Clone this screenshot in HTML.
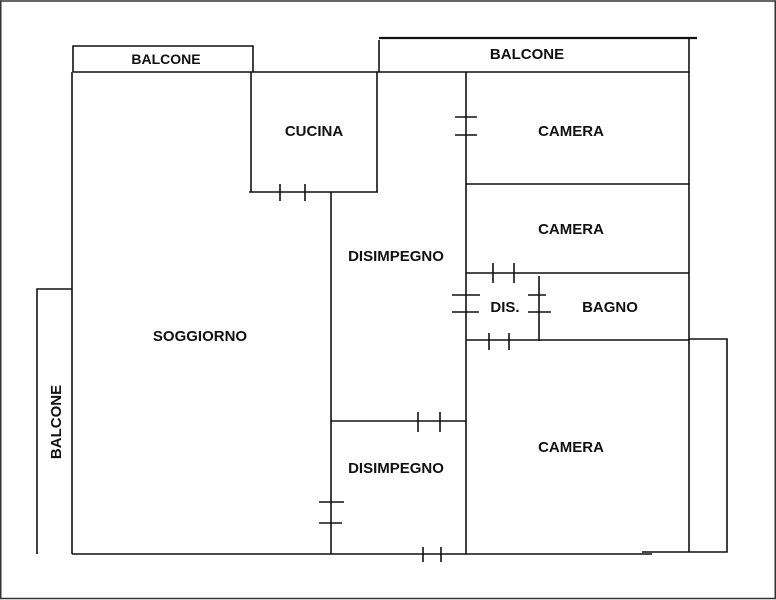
<!DOCTYPE html>
<html><head><meta charset="utf-8"><style>
html,body{margin:0;padding:0;background:#fff;}
svg{display:block;}
text{font-family:"Liberation Sans",Arial,sans-serif;font-weight:bold;fill:#111;}
</style></head><body>
<svg width="776" height="600" viewBox="0 0 776 600" xmlns="http://www.w3.org/2000/svg">
<rect x="0" y="0" width="776" height="600" fill="#fff"/>
<rect x="0.75" y="1" width="774.5" height="597.5" fill="none" stroke="#333" stroke-width="1.5"/>
<g stroke="#111" stroke-width="1.6" fill="none">
<polyline points="73,72 73,46 253,46 253,72"/>
<line x1="379" y1="38" x2="697" y2="38" stroke-width="2.2"/>
<line x1="379" y1="40" x2="379" y2="72"/>
<line x1="689" y1="38" x2="689" y2="72"/>
<line x1="73" y1="72" x2="689" y2="72"/>
<line x1="72" y1="72" x2="72" y2="554"/>
<line x1="689" y1="72" x2="689" y2="552"/>
<line x1="72" y1="554" x2="652" y2="554"/>
<line x1="642" y1="552" x2="689" y2="552"/>
<polyline points="72,289 37,289 37,554"/>
<line x1="251" y1="72" x2="251" y2="192"/>
<line x1="377" y1="72" x2="377" y2="192"/>
<line x1="249" y1="192" x2="378" y2="192"/>
<line x1="280" y1="184" x2="280" y2="201"/>
<line x1="305" y1="184" x2="305" y2="201"/>
<line x1="331" y1="192" x2="331" y2="554"/>
<line x1="466" y1="72" x2="466" y2="554"/>
<line x1="455" y1="117" x2="477" y2="117"/>
<line x1="455" y1="135" x2="477" y2="135"/>
<line x1="466" y1="184" x2="689" y2="184"/>
<line x1="466" y1="273" x2="689" y2="273"/>
<line x1="493" y1="263" x2="493" y2="283"/>
<line x1="514" y1="263" x2="514" y2="283"/>
<line x1="539" y1="276" x2="539" y2="341"/>
<line x1="528" y1="295" x2="546" y2="295"/>
<line x1="528" y1="312" x2="551" y2="312"/>
<line x1="452" y1="295" x2="480" y2="295"/>
<line x1="452" y1="312" x2="479" y2="312"/>
<line x1="466" y1="340" x2="689" y2="340"/>
<line x1="489" y1="333" x2="489" y2="350"/>
<line x1="509" y1="333" x2="509" y2="350"/>
<polyline points="689,339 727,339 727,552 689,552"/>
<line x1="331" y1="421" x2="466" y2="421"/>
<line x1="418" y1="412" x2="418" y2="432"/>
<line x1="440" y1="412" x2="440" y2="432"/>
<line x1="319" y1="502" x2="344" y2="502"/>
<line x1="319" y1="523" x2="342" y2="523"/>
<line x1="423" y1="547" x2="423" y2="562"/>
<line x1="441" y1="547" x2="441" y2="562"/>
</g>
<g font-size="15" text-anchor="middle">
<text x="166" y="64" font-size="14">BALCONE</text>
<text x="527" y="59">BALCONE</text>
<text x="314" y="136">CUCINA</text>
<text x="571" y="136">CAMERA</text>
<text x="571" y="234">CAMERA</text>
<text x="396" y="261">DISIMPEGNO</text>
<text x="505" y="312">DIS.</text>
<text x="610" y="312">BAGNO</text>
<text x="200" y="341">SOGGIORNO</text>
<text x="571" y="452">CAMERA</text>
<text x="396" y="473">DISIMPEGNO</text>
<text transform="translate(61,422) rotate(-90)">BALCONE</text>
</g>
</svg>
</body></html>
